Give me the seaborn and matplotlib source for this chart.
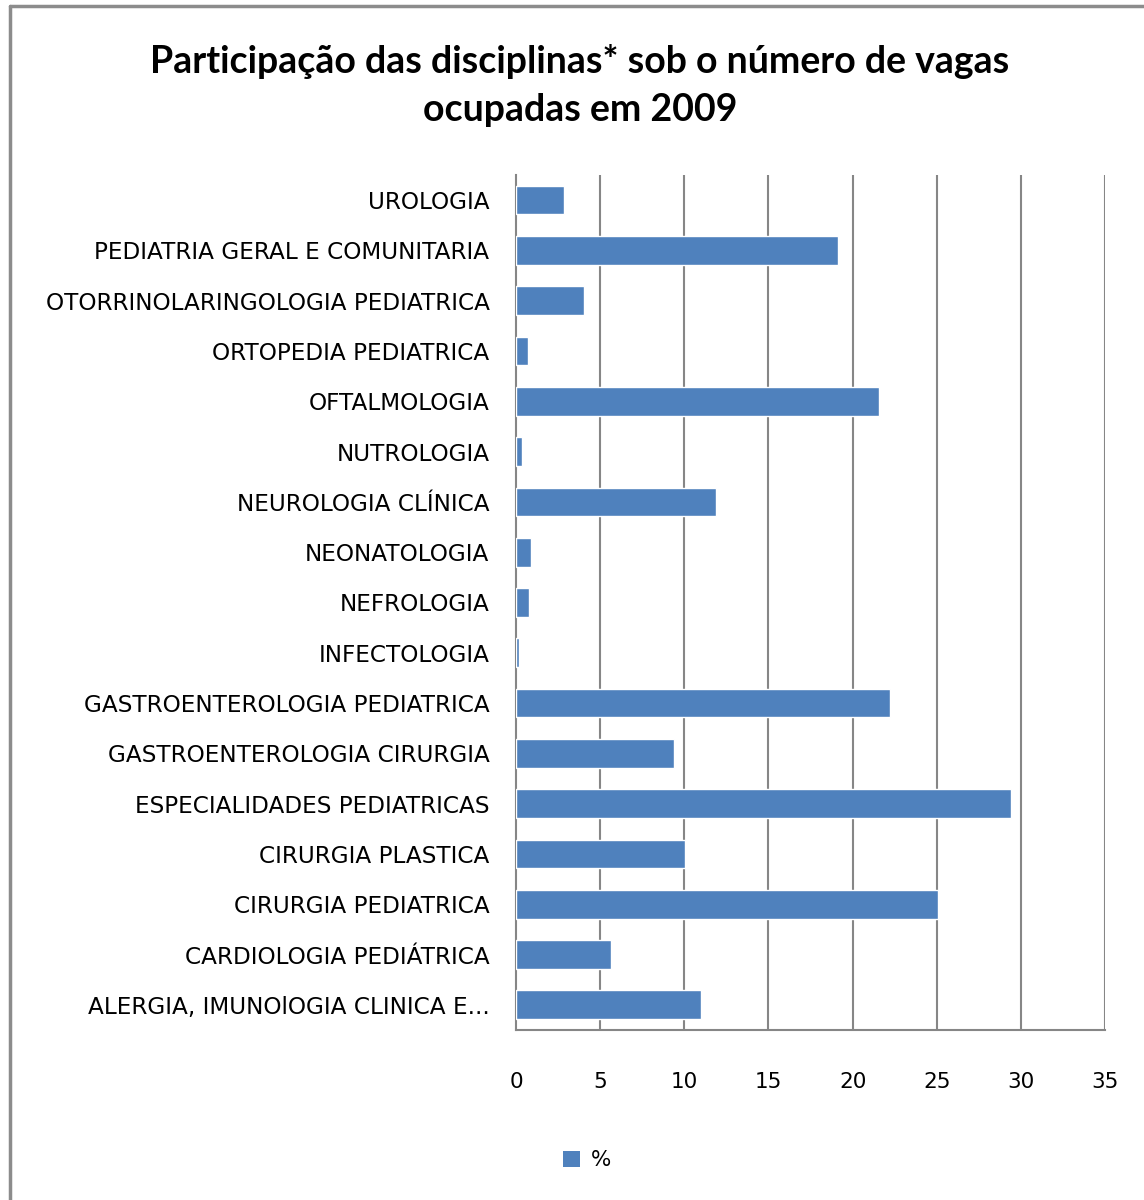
import numpy as np
import pandas as pd
import matplotlib.pyplot as plt
import seaborn as sns
from matplotlib.patches import Patch
from matplotlib.lines import Line2D

#data (top to bottom as in the chart)
disciplinas = ['UROLOGIA', 'PEDIATRIA GERAL E COMUNITARIA', 'OTORRINOLARINGOLOGIA PEDIATRICA',
               'ORTOPEDIA PEDIATRICA', 'OFTALMOLOGIA', 'NUTROLOGIA', 'NEUROLOGIA CLÍNICA',
               'NEONATOLOGIA', 'NEFROLOGIA', 'INFECTOLOGIA', 'GASTROENTEROLOGIA PEDIATRICA',
               'GASTROENTEROLOGIA CIRURGIA', 'ESPECIALIDADES PEDIATRICAS', 'CIRURGIA PLASTICA',
               'CIRURGIA PEDIATRICA', 'CARDIOLOGIA PEDIÁTRICA', 'ALERGIA, IMUNOlOGIA CLINICA E...']
percentual = [2.88, 19.15, 4.04, 0.69, 21.55, 0.38, 11.87, 0.92, 0.8, 0.2, 22.25, 9.38,
              29.42, 10.02, 25.05, 5.66, 11.0]
xticks = [0, 5, 10, 15, 20, 25, 30, 35]

df = pd.DataFrame({'disciplina': disciplinas, 'pct': percentual})

sns.set_style('white')
plt.rcParams['font.family'] = ['DejaVu Sans']
plt.rcParams['text.color'] = 'black'
plt.rcParams['xtick.color'] = 'black'
plt.rcParams['ytick.color'] = 'black'

fig = plt.figure(figsize=(11.44, 12), dpi=100)
ax = fig.add_axes([0.451, 0.1417, 0.515, 0.7125])

blue = '#4F81BD'
grey = '#868686'
sns.barplot(data=df, x='pct', y='disciplina', color=blue, width=0.571, saturation=1, ax=ax, zorder=3)

ax.set_xlim(0, 35)
ax.set_xticks(xticks)
ax.set_xticklabels([str(t) for t in xticks])
ax.set_xlabel('')
ax.set_ylabel('')
for t in xticks[1:]:
    ax.axvline(t, color=grey, lw=1.5, zorder=1)
for s in ['top', 'right']:
    ax.spines[s].set_visible(False)
for s in ['left', 'bottom']:
    ax.spines[s].set_color(grey)
    ax.spines[s].set_linewidth(1.5)
ax.tick_params(axis='y', length=0, pad=19, labelsize=16.7, labelcolor='black')
ax.tick_params(axis='x', length=0, pad=30, labelsize=15.5, labelcolor='black')

fig.text(0.507, 0.929, 'Participação das disciplinas* sob o número de vagas\nocupadas em 2009',
         ha='center', va='center', fontsize=27, fontweight='bold', linespacing=1.5,
         family=['Lato', 'DejaVu Sans'], color='black')

fig.legend(handles=[Patch(facecolor=blue, edgecolor='none', label='%')], loc='center',
           bbox_to_anchor=(0.513, 0.033), frameon=False, fontsize=15.5, handlelength=0.8,
           handleheight=0.8, handletextpad=0.5)

#outer chart frame (only top and left visible)
fig.add_artist(Line2D([10/1144, 10/1144], [0, 1 - 6/1200], transform=fig.transFigure, color='#8c8c8c', lw=2.5))
fig.add_artist(Line2D([10/1144, 1], [1 - 6/1200, 1 - 6/1200], transform=fig.transFigure, color='#8c8c8c', lw=2.5))

fig.savefig('out.png', dpi=100)
